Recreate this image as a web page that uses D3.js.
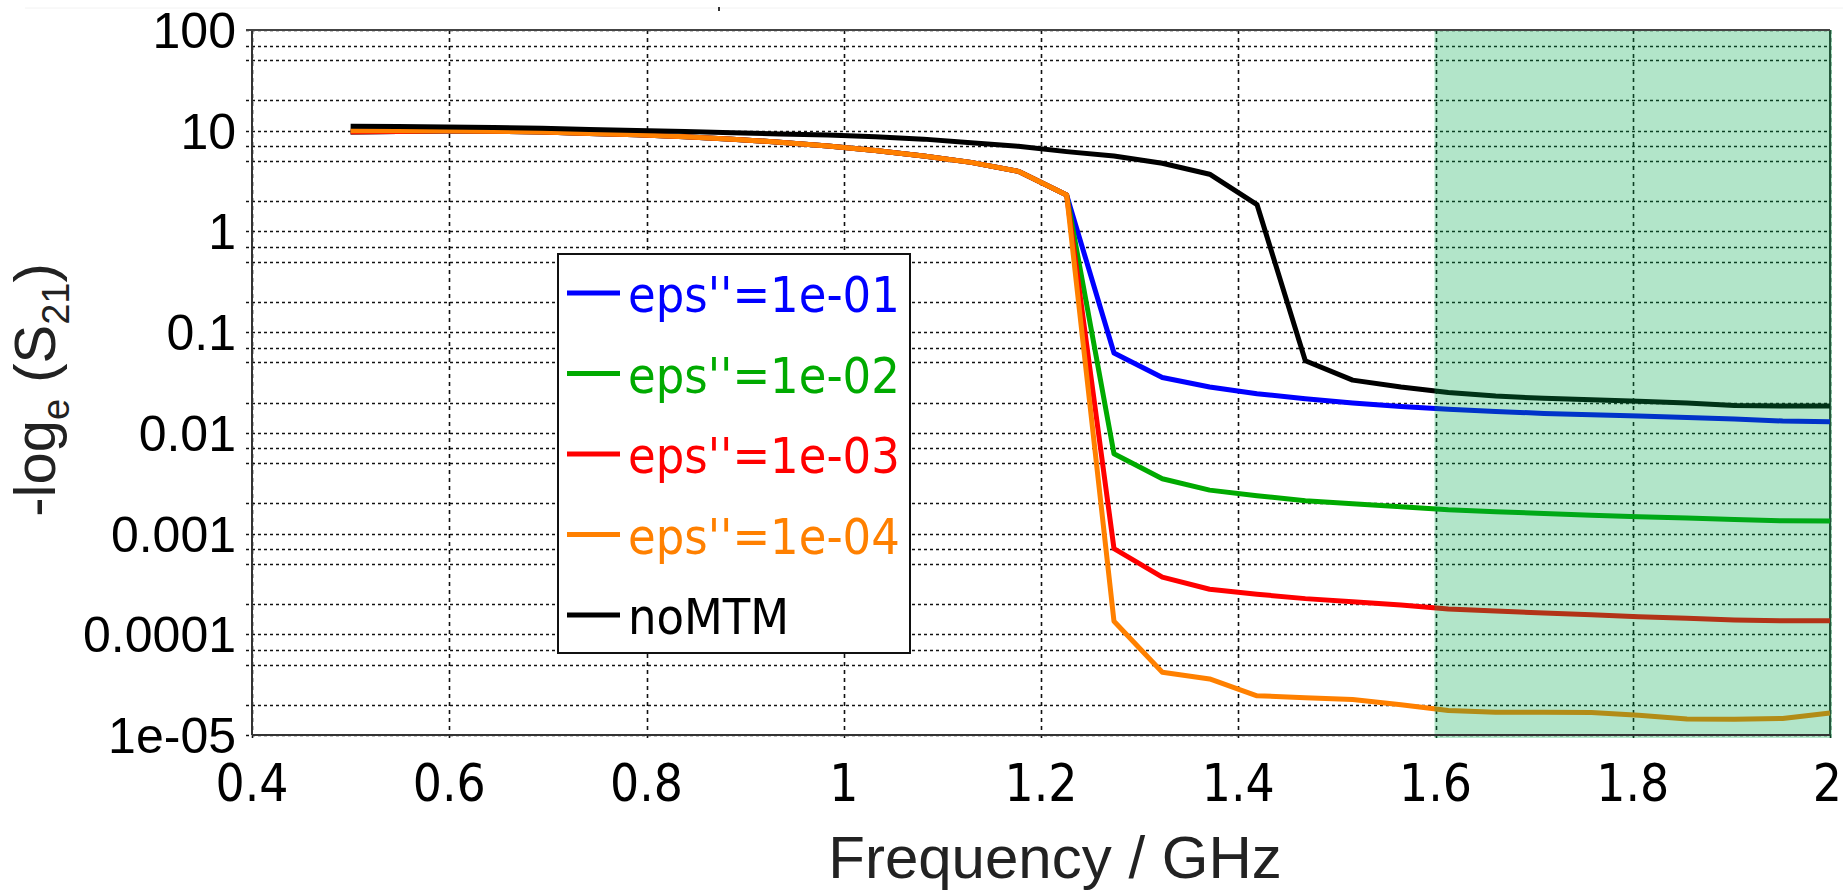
<!DOCTYPE html>
<html>
<head>
<meta charset="utf-8">
<title>-log(S21) vs frequency</title>
<script src="https://d3js.org/d3.v7.min.js"></script>
<style>
  body { margin: 0; background: #fff; }
  svg { display: block; }
</style>
</head>
<body>
<svg id="chart"></svg>
<script>
// frequency points (GHz)
var freq = [0.5, 0.548, 0.597, 0.645, 0.694, 0.742, 0.790, 0.839, 0.887, 0.935,
            0.984, 1.032, 1.081, 1.129, 1.177, 1.226, 1.274, 1.323, 1.371, 1.419,
            1.468, 1.516, 1.565, 1.613, 1.661, 1.710, 1.758, 1.806, 1.855, 1.903,
            1.952, 2.0];

// -log_e(S21) values
var eps1 = [9.7, 9.8, 9.95, 9.9, 9.7, 9.4, 9.1, 8.7, 8.25, 7.7, 7.05, 6.35, 5.6, 4.85, 3.95, 2.3,
            0.062, 0.0355, 0.0285, 0.0245, 0.0218, 0.0198, 0.0183, 0.0172, 0.0163, 0.0156,
            0.0151, 0.0147, 0.0142, 0.0137, 0.0131, 0.0129];
var eps2 = [9.7, 9.8, 9.95, 9.9, 9.7, 9.4, 9.1, 8.7, 8.25, 7.7, 7.05, 6.35, 5.6, 4.85, 3.95, 2.3,
            0.0062, 0.0035, 0.0027, 0.00238, 0.00212, 0.00198, 0.00185, 0.00172, 0.00165, 0.00158,
            0.00152, 0.00147, 0.00143, 0.00138, 0.00134, 0.00133];
var eps3 = [9.7, 9.8, 9.95, 9.9, 9.7, 9.4, 9.1, 8.7, 8.25, 7.7, 7.05, 6.35, 5.6, 4.85, 3.95, 2.3,
            0.00071, 0.00037, 0.00028, 0.00025, 0.000226, 0.00021, 0.000195, 0.000178, 0.00017, 0.000163,
            0.000156, 0.000149, 0.000144, 0.000139, 0.000136, 0.000136];
var eps4 = [10.0, 10.0, 10.0, 9.9, 9.7, 9.4, 9.1, 8.7, 8.25, 7.7, 7.05, 6.35, 5.6, 4.85, 3.95, 2.3,
            0.000135, 0.000042, 0.000036, 0.0000245, 0.0000235, 0.0000225, 0.00002, 0.0000175, 0.0000168, 0.0000168,
            0.0000167, 0.0000157, 0.0000144, 0.0000143, 0.0000146, 0.0000165];
var noMTM = [11.1, 11.0, 10.9, 10.75, 10.55, 10.3, 10.05, 9.8, 9.55, 9.3, 9.05, 8.7, 8.25, 7.6, 7.0, 6.2,
             5.6, 4.75, 3.7, 1.85, 0.052, 0.0334, 0.0285, 0.0252, 0.0232, 0.0220,
             0.0213, 0.0206, 0.0198, 0.0187, 0.0185, 0.0185];

var seriesNames  = ["eps''=1e-01", "eps''=1e-02", "eps''=1e-03", "eps''=1e-04", "noMTM"];
var seriesColors = ["#0000ff", "#00aa00", "#ff0000", "#ff8000", "#000000"];
var seriesValues = [eps1, eps2, eps3, eps4, noMTM];

var xTicks = [0.4, 0.6, 0.8, 1.0, 1.2, 1.4, 1.6, 1.8, 2.0];
var xTickLabels = ["0.4", "0.6", "0.8", "1", "1.2", "1.4", "1.6", "1.8", "2"];
var yTicks = [1e-5, 1e-4, 1e-3, 1e-2, 1e-1, 1, 10, 100];
var yTickLabels = ["1e-05", "0.0001", "0.001", "0.01", "0.1", "1", "10", "100"];
var minorMult = [2, 5, 7];
var band = [1.6, 2.0];

// sizes
var W = 1843, H = 893;
var margin = { top: 30, right: 13, bottom: 158, left: 252 };
var width = W - margin.left - margin.right;
var height = H - margin.top - margin.bottom;

var svg = d3.select("#chart").attr("width", W).attr("height", H);

// faint leftovers above the plot
svg.append("line").attr("x1", 25).attr("x2", W).attr("y1", 8).attr("y2", 8)
  .attr("stroke", "#f2f2f2").attr("stroke-width", 1);
svg.append("rect").attr("x", 718).attr("y", 7).attr("width", 2).attr("height", 4).attr("fill", "#333");

var g = svg.append("g").attr("transform", "translate(" + margin.left + "," + margin.top + ")");

var x = d3.scaleLinear().domain([0.4, 2.0]).range([0, width]);
var y = d3.scaleLog().domain([1e-5, 100]).range([height, 0]);

// grid lines
var minorVals = [];
yTicks.forEach(function(d) {
  minorMult.forEach(function(m) { if (d * m < 100) minorVals.push(d * m); });
});
var hVals = yTicks.concat(minorVals);

g.append("g").selectAll("line").data(hVals).enter().append("line")
  .attr("x1", -6).attr("x2", width)
  .attr("y1", function(d) { return Math.round(y(d)) + 0.5; })
  .attr("y2", function(d) { return Math.round(y(d)) + 0.5; })
  .attr("stroke", "#111").attr("stroke-width", 1.6)
  .attr("stroke-dasharray", "3,3");

g.append("g").selectAll("line").data(xTicks).enter().append("line")
  .attr("x1", function(d) { return Math.round(x(d)) + 0.5; })
  .attr("x2", function(d) { return Math.round(x(d)) + 0.5; })
  .attr("y1", 0).attr("y2", height + 6)
  .attr("stroke", "#111").attr("stroke-width", 1.6)
  .attr("stroke-dasharray", "4,4");

// right edge of the frame (sits under the band)
g.append("line").attr("x1", width).attr("x2", width).attr("y1", 0).attr("y2", height)
  .attr("stroke", "#333").attr("stroke-width", 2);

// curves
var line = d3.line()
  .x(function(d) { return x(d[0]); })
  .y(function(d) { return y(d[1]); });

seriesValues.forEach(function(vals, i) {
  var pts = freq.map(function(f, k) { return [f, vals[k]]; });
  g.append("path")
    .datum(pts)
    .attr("d", line)
    .attr("fill", "none")
    .attr("stroke", seriesColors[i])
    .attr("stroke-width", 5)
    .attr("stroke-linejoin", "round");
});

// green band, drawn over the curves
g.append("rect")
  .attr("x", x(band[0]) - 1)
  .attr("y", 0)
  .attr("width", x(band[1]) - x(band[0]) + 3)
  .attr("height", height + 3)
  .attr("fill", "rgb(0,170,75)")
  .attr("fill-opacity", 0.3);

// left, bottom and top of the frame
g.append("line").attr("x1", 0).attr("x2", 0).attr("y1", 0).attr("y2", height)
  .attr("stroke", "#333").attr("stroke-width", 2);
g.append("line").attr("x1", 0).attr("x2", width).attr("y1", height).attr("y2", height)
  .attr("stroke", "#333").attr("stroke-width", 2);
g.append("line").attr("x1", -6).attr("x2", width).attr("y1", 0).attr("y2", 0)
  .attr("stroke", "#444").attr("stroke-width", 2);

// tick labels
g.append("g").selectAll("text").data(yTicks).enter().append("text")
  .attr("x", -16)
  .attr("y", function(d) { return y(d); })
  .attr("dy", "0.36em")
  .attr("text-anchor", "end")
  .style("font-family", "'Liberation Sans', Arial, sans-serif")
  .style("font-size", "50px")
  .attr("fill", "#000")
  .text(function(d, i) { return yTickLabels[i]; });

g.append("g").selectAll("text").data(xTicks).enter().append("text")
  .attr("x", function(d, i) { return i === xTicks.length - 1 ? x(d) + 12 : x(d); })
  .attr("y", height + 66)
  .attr("text-anchor", function(d, i) { return i === xTicks.length - 1 ? "end" : "middle"; })
  .style("font-family", "'DejaVu Sans Condensed', 'DejaVu Sans', sans-serif")
  .style("font-stretch", "condensed")
  .style("font-size", "51px")
  .attr("fill", "#000")
  .text(function(d, i) { return xTickLabels[i]; });

// axis titles
svg.append("text")
  .attr("x", 1055).attr("y", 878)
  .attr("text-anchor", "middle")
  .style("font-family", "'Liberation Sans', Arial, sans-serif")
  .style("font-size", "60px")
  .attr("fill", "#222")
  .text("Frequency / GHz");

var yt = svg.append("text")
  .attr("transform", "translate(55,390) rotate(-90)")
  .attr("text-anchor", "middle")
  .style("font-family", "'Liberation Sans', Arial, sans-serif")
  .style("font-size", "58px")
  .attr("fill", "#222");
yt.append("tspan").text("-log");
yt.append("tspan").attr("dy", 14).style("font-size", "38px").text("e");
yt.append("tspan").attr("dy", -14).text(" (S");
yt.append("tspan").attr("dy", 14).style("font-size", "38px").text("21");
yt.append("tspan").attr("dy", -14).text(")");

// legend
var legend = svg.append("g");
legend.append("rect")
  .attr("x", 558).attr("y", 254).attr("width", 352).attr("height", 399)
  .attr("fill", "#fff").attr("stroke", "#111").attr("stroke-width", 2);

var items = legend.selectAll("g.item").data(seriesNames).enter().append("g")
  .attr("class", "item")
  .attr("transform", function(d, i) { return "translate(0," + (293 + i * 80.5) + ")"; });
items.append("line")
  .attr("x1", 567).attr("x2", 620).attr("y1", 0).attr("y2", 0)
  .attr("stroke", function(d, i) { return seriesColors[i]; })
  .attr("stroke-width", 5);
items.append("text")
  .attr("x", 628).attr("y", 19)
  .style("font-family", "'DejaVu Sans Condensed', 'DejaVu Sans', sans-serif")
  .style("font-stretch", "condensed")
  .style("font-size", "50px")
  .attr("fill", function(d, i) { return seriesColors[i]; })
  .text(function(d) { return d; });
</script>
</body>
</html>
